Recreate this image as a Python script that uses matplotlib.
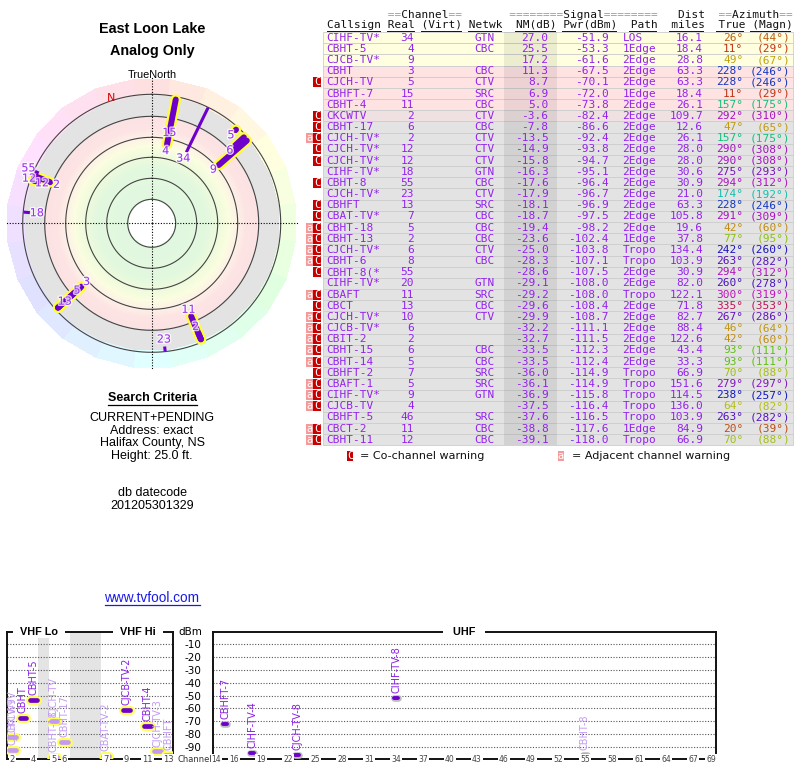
import numpy as np
import colorsys
import matplotlib
matplotlib.use('Agg')
import matplotlib.pyplot as plt
from matplotlib.patches import Rectangle
from matplotlib.colors import ListedColormap, Normalize
import matplotlib.patheffects as pe

# ---------------- data ----------------
callsign = ['CIHF-TV*', 'CBHT-5', 'CJCB-TV*', 'CBHT', 'CJCH-TV', 'CBHFT-7', 'CBHT-4', 'CKCWTV',
            'CBHT-17', 'CJCH-TV*', 'CJCH-TV*', 'CJCH-TV*', 'CIHF-TV*', 'CBHT-8', 'CJCH-TV*', 'CBHFT',
            'CBAT-TV*', 'CBHT-18', 'CBHT-13', 'CJCH-TV*', 'CBHT-6', 'CBHT-8(*', 'CIHF-TV*', 'CBAFT',
            'CBCT', 'CJCH-TV*', 'CJCB-TV*', 'CBIT-2', 'CBHT-15', 'CBHT-14', 'CBHFT-2', 'CBAFT-1',
            'CIHF-TV*', 'CJCB-TV', 'CBHFT-5', 'CBCT-2', 'CBHT-11']
real = [34, 4, 9, 3, 5, 15, 11, 2, 6, 2, 12, 12, 18, 55, 23, 13, 7, 5, 2, 6, 8, 55, 20, 11, 13,
        10, 6, 2, 6, 5, 7, 5, 9, 4, 46, 11, 12]
netwk = ['GTN', 'CBC', '', 'CBC', 'CTV', 'SRC', 'CBC', 'CTV', 'CBC', 'CTV', 'CTV', 'CTV', 'GTN',
         'CBC', 'CTV', 'SRC', 'CBC', 'CBC', 'CBC', 'CTV', 'CBC', '', 'GTN', 'SRC', 'CBC', 'CTV',
         '', '', 'CBC', 'CBC', 'SRC', 'SRC', 'GTN', '', 'SRC', 'CBC', 'CBC']
nm = [27.0, 25.5, 17.2, 11.3, 8.7, 6.9, 5.0, -3.6, -7.8, -13.5, -14.9, -15.8, -16.3, -17.6, -17.9,
      -18.1, -18.7, -19.4, -23.6, -25.0, -28.3, -28.6, -29.1, -29.2, -29.6, -29.9, -32.2, -32.7,
      -33.5, -33.5, -36.0, -36.1, -36.9, -37.5, -37.6, -38.8, -39.1]
pwr = [-51.9, -53.3, -61.6, -67.5, -70.1, -72.0, -73.8, -82.4, -86.6, -92.4, -93.8, -94.7, -95.1,
       -96.4, -96.7, -96.9, -97.5, -98.2, -102.4, -103.8, -107.1, -107.5, -108.0, -108.0, -108.4,
       -108.7, -111.1, -111.5, -112.3, -112.4, -114.9, -114.9, -115.8, -116.4, -116.5, -117.6, -118.0]
path = ['LOS', '1Edge', '2Edge', '2Edge', '2Edge', '1Edge', '2Edge', '2Edge', '2Edge', '2Edge',
        '2Edge', '2Edge', '2Edge', '2Edge', '2Edge', '2Edge', '2Edge', '2Edge', '1Edge', 'Tropo',
        'Tropo', '2Edge', '2Edge', 'Tropo', '2Edge', '2Edge', '2Edge', '2Edge', '2Edge', '2Edge',
        'Tropo', 'Tropo', 'Tropo', 'Tropo', 'Tropo', '1Edge', 'Tropo']
dist = [16.1, 18.4, 28.8, 63.3, 63.3, 18.4, 26.1, 109.7, 12.6, 26.1, 28.0, 28.0, 30.6, 30.9, 21.0,
        63.3, 105.8, 19.6, 37.8, 134.4, 103.9, 30.9, 82.0, 122.1, 71.8, 82.7, 88.4, 122.6, 43.4,
        33.3, 66.9, 151.6, 114.5, 136.0, 103.9, 84.9, 66.9]
az_true = [26, 11, 49, 228, 228, 11, 157, 292, 47, 157, 290, 290, 275, 294, 174, 228, 291, 42, 77,
           242, 263, 294, 260, 300, 335, 267, 46, 42, 93, 93, 70, 279, 238, 64, 263, 20, 70]
az_magn = [44, 29, 67, 246, 246, 29, 175, 310, 65, 175, 308, 308, 293, 312, 192, 246, 309, 60, 95,
           260, 282, 312, 278, 319, 353, 286, 64, 60, 111, 111, 88, 297, 257, 82, 282, 39, 88]
warn = ['', '', '', '', 'C', '', '', 'C', 'C', 'aC', 'C', 'C', '', 'C', '', 'C', 'C', 'aC', 'aC',
        'aC', 'aC', 'C', '', 'aC', 'C', 'aC', 'aC', 'aC', 'aC', 'aC', 'C', 'aC', 'aC', 'aC', '',
        'aC', 'aC']

spec_vhf_ch = [2, 2, 3, 4, 5, 5, 6, 7, 9, 11, 12, 13]
spec_vhf_pwr = [-82.4, -92.4, -67.5, -53.3, -70.1, -98.2, -86.6, -97.5, -61.6, -73.8, -93.8, -96.9]
spec_vhf_name = ['CKCWTV', 'CJCH-TV-9', 'CBHT', 'CBHT-5', 'CJCH-TV', 'CBHT-18', 'CBHT-17',
                 'CBAT-TV-2', 'CJCB-TV-2', 'CBHT-4', 'CJCH-TV-3', 'CBHFT']
spec_vhf_faded = [True, True, False, False, True, True, True, True, False, False, True, True]
spec_uhf_ch = [15, 18, 23, 34, 55]
spec_uhf_pwr = [-72.0, -95.1, -96.7, -51.9, -96.4]
spec_uhf_name = ['CBHFT-7', 'CIHF-TV-4', 'CJCH-TV-8', 'CIHF-TV-8', 'CBHT-8']
spec_uhf_faded = [False, False, False, False, True]

vhf_channels = [2, 3, 4, 5, 6, 7, 8, 9, 10, 11, 12, 13]
vhf_slots = [0, 1, 2, 4, 5, 9, 10, 11, 12, 13, 14, 15]
vhf_gaps = [(2.5, 3.5), (5.5, 8.5)]
vhf_tick_ch = [2, 4, 5, 6, 7, 9, 11, 13]
uhf_tick_ch = [14, 16, 19, 22, 25, 28, 31, 34, 37, 40, 43, 46, 49, 52, 55, 58, 61, 64, 67, 69]
dbm_ticks = [-10, -20, -30, -40, -50, -60, -70, -80, -90]

title_lines = ['East Loon Lake', 'Analog Only']
criteria_lines = ['CURRENT+PENDING', 'Address: exact', 'Halifax County, NS', 'Height: 25.0 ft.']
datecode_lines = ['db datecode', '201205301329']

# ---------------- figure ----------------
W, H = 800, 768
fig = plt.figure(figsize=(8, 7.68), dpi=100)
fig.patch.set_facecolor('white')


def fx(px):
    return px / W


def fy(py):
    return 1 - py / H


bg = fig.add_axes([0, 0, 1, 1])
bg.set_xlim(0, W)
bg.set_ylim(H, 0)
bg.axis('off')

SANS = 'Liberation Sans'
PURPLE_T = '#9322ee'
BAR = '#6e00cc'
FADED = '#c29af2'


def az_color(a):
    return colorsys.hsv_to_rgb((a % 360) / 360.0, 0.9, 0.75)


# ---------------- left text ----------------
bg.text(152, 29, title_lines[0], ha='center', va='center', fontsize=10.4, fontweight='bold', family=SANS)
bg.text(152, 51, title_lines[1], ha='center', va='center', fontsize=10.4, fontweight='bold', family=SANS)
bg.text(152, 75, 'TrueNorth', ha='center', va='center', fontsize=7.8, family=SANS)

renderer = fig.canvas.get_renderer()
t = bg.text(152, 398, 'Search Criteria', ha='center', va='center', fontsize=9, fontweight='bold', family=SANS)
bb = t.get_window_extent(renderer)
bg.plot([bb.x0, bb.x1], [405, 405], color='k', lw=0.9)
for k, s in enumerate(criteria_lines):
    bg.text(152, 418 + k * 12.7, s, ha='center', va='center', fontsize=9, family=SANS)
for k, s in enumerate(datecode_lines):
    bg.text(152, 493 + k * 13, s, ha='center', va='center', fontsize=9, family=SANS)
t = bg.text(152, 598, 'www.tvfool.com', ha='center', va='center', fontsize=9.8, family=SANS, color='#1a1ae6')
bb = t.get_window_extent(renderer)
bg.plot([bb.x0, bb.x1], [605, 605], color='#1a1ae6', lw=0.9)

# ---------------- polar plot ----------------
cx, cy, RR = 151.7, 223.3, 150
axp = fig.add_axes([fx(cx - RR), fy(cy + RR), 2 * RR / W, 2 * RR / H], projection='polar')
axp.set_theta_zero_location('N')
axp.set_theta_direction(-1)
axp.set_ylim(106, -44)
axp.axis('off')

# radial background zones (pixel radius -> colour), NM = 106 - radius
stops_r = [24, 56, 68, 78, 87, 95, 107, 107.01, 129]
stops_c = ['#e1f7e0', '#e2f8de', '#eefadc', '#fbfde0', '#fdf0e6', '#fde4e4', '#fce2e2', '#e3e3e3', '#e3e3e3']
stops_rgb = np.array([matplotlib.colors.to_rgb(c) for c in stops_c])
r_edges = np.arange(24, 130, 1.0)
r_mid = r_edges[:-1] + 0.5
zone_cols = np.column_stack([np.interp(r_mid, stops_r, stops_rgb[:, j]) for j in range(3)])
th_edges = np.linspace(0, 2 * np.pi, 181)
TH, RG = np.meshgrid(th_edges, 106 - r_edges)
Cz = np.tile(np.arange(len(r_mid))[:, None], (1, len(th_edges) - 1))
axp.pcolormesh(TH, RG, Cz, cmap=ListedColormap(zone_cols), norm=Normalize(-0.5, len(r_mid) - 0.5),
               shading='flat', edgecolors='face', linewidth=0.3, zorder=1)

# hue ring
nwedge = 24
th_w = np.deg2rad(np.arange(nwedge + 1) * 360.0 / nwedge - 7.5)
THw, RGw = np.meshgrid(th_w, [-23, -39])
hue_cols = [colorsys.hsv_to_rgb(k / nwedge, 0.12, 1.0) for k in range(nwedge)]
axp.pcolormesh(THw, RGw, np.arange(nwedge)[None, :], cmap=ListedColormap(hue_cols),
               norm=Normalize(-0.5, nwedge - 0.5), shading='flat', edgecolors='face', linewidth=0.3, zorder=1)

theta = np.linspace(0, 2 * np.pi, 361)
for ring in [82, 61, 40, 20, -1, -23]:
    axp.plot(theta, np.full_like(theta, ring), color='#444444', lw=0.8, zorder=2)
for a in [0, 90, 180, 270]:
    axp.plot([np.deg2rad(a)] * 2, [106, -40], color='k', lw=0.8, ls=(0, (1, 1.5)), zorder=3)
axp.text(np.deg2rad(-18), -26, 'N', color='#dd0000', fontsize=8, ha='center', va='center', zorder=6)

visible = [i for i in range(len(nm)) if nm[i] > -23]
for i in visible:
    if real[i] <= 13:
        th = np.deg2rad(az_true[i])
        axp.plot([th, th], [nm[i], -20], color='#ffff33', lw=7.6, solid_capstyle='round', zorder=4)
for i in visible:
    th = np.deg2rad(az_true[i])
    if real[i] <= 13:
        axp.plot([th, th], [nm[i], -20], color=BAR, lw=4.3, solid_capstyle='round', zorder=5)
    else:
        axp.plot([th, th], [nm[i], -22.7], color=BAR, lw=2.2, solid_capstyle='butt', zorder=5)

label_shift = {4: -3.3, 10: 4.1, 11: -8.8, 13: -11.4, 16: None}
for i in visible:
    sh = label_shift.get(i, 7)
    if sh is None:
        continue
    axp.text(np.deg2rad(az_true[i]), nm[i] + sh, str(real[i]), color='#9933ee', fontsize=8,
             ha='center', va='center', zorder=7,
             path_effects=[pe.withStroke(linewidth=2, foreground=(1, 1, 1, 0.75))])

# ---------------- table ----------------
X0, CW = 326.7, 6.72
Y0, DY = 37.7, 11.17
MONO = 'DejaVu Sans Mono'
FS = 8.04


def cxp(i):
    return X0 + i * CW


head1 = ' ' * 9 + '==Channel==' + ' ' * 7 + '========Signal========' + ' ' * 3 + 'Dist' + ' ' * 2 + '==Azimuth=='
head2 = 'Callsign Real (Virt) Netwk  NM(dB) Pwr(dBm)  Path  miles  True (Magn)'
bg.text(X0, 15, ''.join(c if c == '=' else ' ' for c in head1), family=MONO, fontsize=FS,
        ha='left', va='center', color='#9a9a9a')
bg.text(X0, 15, ''.join(' ' if c == '=' else c for c in head1), family=MONO, fontsize=FS,
        ha='left', va='center', color='#111111')
bg.text(X0, 25.5, head2, family=MONO, fontsize=FS, ha='left', va='center', color='#111111')
pos = 0
for word in head2.split(' '):
    if word:
        bg.plot([cxp(pos), cxp(pos + len(word))], [31.3, 31.3], color='#111111', lw=0.7)
    pos += len(word) + 1

n = len(callsign)
for i in range(n):
    y = Y0 + i * DY
    v = nm[i]
    if v >= 15:
        fc = '#ffffe0'
    elif v >= 4:
        fc = '#ffe3e3'
    elif v >= -5:
        fc = '#efe1e1'
    else:
        fc = '#e3e3e3'
    bg.add_patch(Rectangle((323, y - DY / 2), 470, DY, fc=fc, ec='#cdcdcd', lw=0.6, zorder=1))
bg.add_patch(Rectangle((504, Y0 - DY / 2), 53.3, n * DY, fc='k', alpha=0.075, lw=0, zorder=2))

for i in range(n):
    y = Y0 + i * DY
    kw = dict(family=MONO, fontsize=FS, va='center', color=PURPLE_T, zorder=3)
    bg.text(cxp(0), y, callsign[i], ha='left', **kw)
    bg.text(cxp(13), y, str(real[i]), ha='right', **kw)
    bg.text(cxp(22), y, netwk[i], ha='left', **kw)
    bg.text(cxp(33), y, f'{nm[i]:.1f}', ha='right', **kw)
    bg.text(cxp(42), y, f'{pwr[i]:.1f}', ha='right', **kw)
    bg.text(cxp(44), y, path[i], ha='left', **kw)
    bg.text(cxp(56), y, f'{dist[i]:.1f}', ha='right', **kw)
    kw['color'] = az_color(az_true[i])
    bg.text(cxp(62), y, f'{az_true[i]}°', ha='right', **kw)
    bg.text(cxp(69), y, f'({az_magn[i]}°)', ha='right', **kw)
    if 'C' in warn[i]:
        bg.add_patch(Rectangle((313.3, y - 5), 7.4, 10, fc='#c80000', lw=0, zorder=2))
        bg.text(317.0, y, 'C', family=MONO, fontsize=7.5, color='white', ha='center', va='center', zorder=3)
    if 'a' in warn[i]:
        bg.add_patch(Rectangle((306.0, y - 5), 7.3, 10, fc='#f59a9a', lw=0, zorder=2))
        bg.text(309.65, y, 'a', family=MONO, fontsize=7.5, color='white', ha='center', va='center', zorder=3)

LY = 456
bg.add_patch(Rectangle((346.7, LY - 5), 6.6, 10, fc='#c80000', lw=0))
bg.text(350, LY, 'C', family=MONO, fontsize=7.5, color='white', ha='center', va='center')
bg.text(360, LY, '= Co-channel warning', family='DejaVu Sans', fontsize=8, ha='left', va='center', color='#111111')
bg.add_patch(Rectangle((557.7, LY - 5), 6.6, 10, fc='#f59a9a', lw=0))
bg.text(561, LY, 'a', family=MONO, fontsize=7.5, color='white', ha='center', va='center')
bg.text(571.7, LY, '= Adjacent channel warning', family='DejaVu Sans', fontsize=8, ha='left', va='center', color='#111111')

# ---------------- spectrum charts ----------------
TOP, BOT = 631.7, 759.3


def style_spec(ax):
    ax.set_ylim(-100, 0)
    ax.set_facecolor('none')
    for sp in ax.spines.values():
        sp.set_linewidth(1.4)
        sp.set_color('#111111')
    ax.tick_params(length=0)
    ax.set_xticks([])
    for v in dbm_ticks:
        ax.axhline(v, color='#555555', lw=0.8, ls=(0, (1, 1.5)), zorder=1)


def draw_bars(ax, xs, ps, names, faded, half, lw, outline, olw):
    for x, p, nme, f in zip(xs, ps, names, faded):
        col = FADED if f else BAR
        ax.plot([x - half, x + half], [p, p], color=col, lw=lw, solid_capstyle='round', zorder=4,
                path_effects=[pe.Stroke(linewidth=olw, foreground=outline), pe.Normal()])
        ax.annotate(nme, (x, p), xytext=(0, 3.5), textcoords='offset points', rotation=90,
                    ha='center', va='bottom', fontsize=7, color=(FADED if f else '#8a1ee6'), zorder=5,
                    family='DejaVu Sans', annotation_clip=False)


slot_of = dict(zip(vhf_channels, vhf_slots))
axv = fig.add_axes([fx(7.3), fy(BOT), (173.3 - 7.3) / W, (BOT - TOP) / H])
axv.set_xlim(-0.5, 15.5)
style_spec(axv)
axv.set_yticks([])
for g0, g1 in vhf_gaps:
    axv.axvspan(g0, g1, color='#e4e4e4', lw=0, zorder=0)
draw_bars(axv, [slot_of[c] for c in spec_vhf_ch], spec_vhf_pwr, spec_vhf_name, spec_vhf_faded,
          0.32, 3.4, '#ffff55', 6.4)
for c in vhf_tick_ch:
    axv.text(slot_of[c], -100, str(c), ha='center', va='center', fontsize=6, color='#444444',
             bbox=dict(fc='white', ec='none', pad=0.8), zorder=6, clip_on=False)

axu = fig.add_axes([fx(212.7), fy(BOT), (716 - 212.7) / W, (BOT - TOP) / H])
axu.set_xlim(13.63, 69.56)
style_spec(axu)
axu.set_yticks(dbm_ticks)
axu.set_yticklabels([str(v) for v in dbm_ticks], fontsize=7.5, family='DejaVu Sans')
axu.tick_params(axis='y', pad=7.9, length=0)
draw_bars(axu, spec_uhf_ch, spec_uhf_pwr, spec_uhf_name, spec_uhf_faded, 0.24, 2.8, '#bdbdbd', 4.8)
for c in uhf_tick_ch:
    axu.text(c, -100, str(c), ha='center', va='center', fontsize=5.5, color='#444444',
             bbox=dict(fc='white', ec='none', pad=0.8), zorder=6, clip_on=False)

# overlay for titles sitting on the chart frames
fg = fig.add_axes([0, 0, 1, 1])
fg.set_xlim(0, W)
fg.set_ylim(H, 0)
fg.axis('off')
for txt, x in [('  VHF Lo  ', 39), ('  VHF Hi  ', 138), ('   UHF   ', 464)]:
    fg.text(x, TOP, txt, ha='center', va='center', fontsize=7.8, fontweight='bold', family=SANS,
            bbox=dict(fc='white', ec='none', pad=0.6))
fg.text(202, TOP, 'dBm', ha='right', va='center', fontsize=7.5, family='DejaVu Sans')
fg.text(177, BOT, 'Channel', ha='left', va='center', fontsize=6, family='DejaVu Sans', color='#333333',
        bbox=dict(fc='white', ec='none', pad=0.5))

fig.savefig('out.png', dpi=100, facecolor='white')
